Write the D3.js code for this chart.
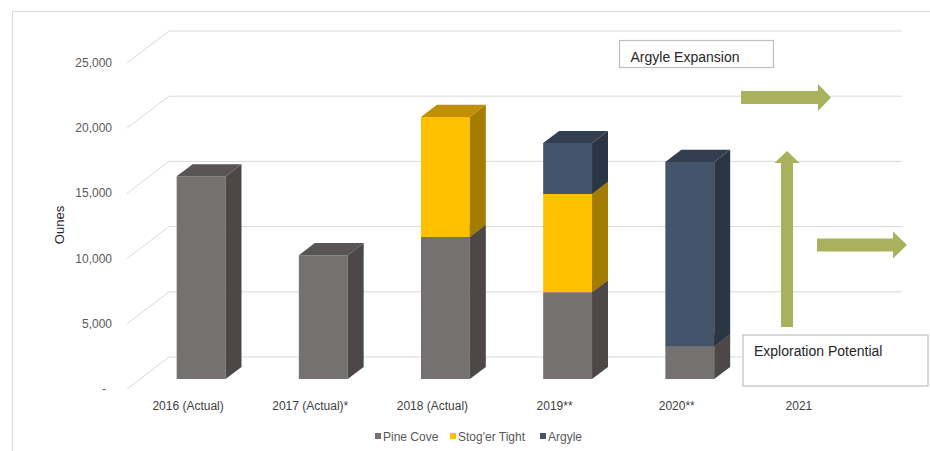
<!DOCTYPE html>
<html>
<head>
<meta charset="utf-8">
<script src="https://cdnjs.cloudflare.com/ajax/libs/d3/7.8.5/d3.min.js"></script>
<style>
  body { margin: 0; background: #fff; }
  text { font-family: "Liberation Sans", Arial, sans-serif; }
</style>
</head>
<body>
<svg width="930" height="451"></svg>
<script>
var categories = ["2016 (Actual)", "2017 (Actual)*", "2018 (Actual)", "2019**", "2020**", "2021"];
var pineCove = [15550, 9500, 10900, 6650, 2500, 0];
var stogerTight = [0, 0, 9200, 7550, 0, 0];
var argyle = [0, 0, 0, 3900, 14150, 0];
var yTicks = [0, 5000, 10000, 15000, 20000, 25000];

var seriesNames = ["Pine Cove", "Stog'er Tight", "Argyle"];
var seriesColors = [
  {front: "#767171", side: "#4d4847", top: "#5a5555"},
  {front: "#ffc000", side: "#a47c00", top: "#c09000"},
  {front: "#44546a", side: "#2b3645", top: "#333f50"}
];

var svg = d3.select("svg");

// chart area border
svg.append("rect")
  .attr("x", 12.5).attr("y", 11.5)
  .attr("width", 940).attr("height", 460)
  .attr("fill", "none").attr("stroke", "#d9d9d9");

// front plane scales, depth vector goes back to the wall
var depth = {dx: 42, dy: -32};
var x = d3.scaleBand()
  .domain(categories)
  .range([127, 860])
  .paddingInner(0.6)
  .paddingOuter(0.3);
var y = d3.scaleLinear()
  .domain([0, 25000])
  .range([389, 63]);

// bar sits between 31% and 69% of the depth
var zFront = 0.31, zBack = 0.69;

var grid = svg.append("g");
yTicks.forEach(function(v) {
  grid.append("line")
    .attr("x1", x.range()[0]).attr("y1", y(v))
    .attr("x2", x.range()[0] + depth.dx).attr("y2", y(v) + depth.dy)
    .attr("stroke", "#d9d9d9");
  grid.append("line")
    .attr("x1", x.range()[0] + depth.dx).attr("y1", y(v) + depth.dy)
    .attr("x2", x.range()[1] + depth.dx).attr("y2", y(v) + depth.dy)
    .attr("stroke", "#d9d9d9");
});

svg.append("g").selectAll("text")
  .data(yTicks)
  .enter().append("text")
  .attr("x", function(d) { return d === 0 ? 106 : 112; })
  .attr("y", function(d) { return y(d) + 4; })
  .attr("text-anchor", "end")
  .attr("fill", "#595959")
  .style("font-size", "12px")
  .text(function(d) { return d === 0 ? "-" : d3.format(",")(d); });

svg.append("text")
  .attr("transform", "translate(64," + 225 + ") rotate(-90)")
  .attr("text-anchor", "middle")
  .attr("fill", "#262626")
  .style("font-size", "13px")
  .text("Ounes");

// stacked segments
var stackData = categories.map(function(c, i) {
  return {cat: c, pine: pineCove[i], stog: stogerTight[i], argyle: argyle[i]};
});
var stacked = d3.stack().keys(["pine", "stog", "argyle"])(stackData);

var segs = [];
categories.forEach(function(c, i) {
  stacked.forEach(function(layer, k) {
    var d = layer[i];
    if (d[1] - d[0] > 0) segs.push({cat: c, k: k, y0: d[0], y1: d[1]});
  });
});

function pt(px, py, z) {
  return [px + depth.dx * z, py + depth.dy * z];
}

var bars = svg.append("g");
segs.forEach(function(s) {
  var x0 = x(s.cat), x1 = x(s.cat) + x.bandwidth();
  var yb = y(s.y0), yt = y(s.y1);
  var col = seriesColors[s.k];
  var front = [pt(x0, yb, zFront), pt(x1, yb, zFront), pt(x1, yt, zFront), pt(x0, yt, zFront)];
  var side = [pt(x1, yb, zFront), pt(x1, yb, zBack), pt(x1, yt, zBack), pt(x1, yt, zFront)];
  var top = [pt(x0, yt, zFront), pt(x1, yt, zFront), pt(x1, yt, zBack), pt(x0, yt, zBack)];
  bars.append("polygon").attr("points", front.join(" ")).attr("fill", col.front);
  bars.append("polygon").attr("points", side.join(" ")).attr("fill", col.side);
  bars.append("polygon").attr("points", top.join(" ")).attr("fill", col.top);
});

svg.append("g").selectAll("text")
  .data(categories)
  .enter().append("text")
  .attr("x", function(d) { return x(d) + x.bandwidth() / 2; })
  .attr("y", 410)
  .attr("text-anchor", "middle")
  .attr("fill", "#404040")
  .style("font-size", "12px")
  .text(function(d) { return d; });

// legend
var legendX = [375, 450, 540];
var legend = svg.append("g");
seriesNames.forEach(function(n, i) {
  legend.append("rect")
    .attr("x", legendX[i]).attr("y", 433)
    .attr("width", 6).attr("height", 6)
    .attr("fill", seriesColors[i].front);
  legend.append("text")
    .attr("x", legendX[i] + 8).attr("y", 441)
    .attr("fill", "#595959")
    .style("font-size", "12px")
    .text(n);
});

// annotations
var arrowColor = "#a9b15c";
function rightArrow(xs, xe, yc, shaft, head, headLen) {
  var p = [[xs, yc - shaft / 2], [xe - headLen, yc - shaft / 2], [xe - headLen, yc - head / 2],
           [xe, yc], [xe - headLen, yc + head / 2], [xe - headLen, yc + shaft / 2], [xs, yc + shaft / 2]];
  svg.append("polygon").attr("points", p.join(" ")).attr("fill", arrowColor);
}
function upArrow(xc, ys, ye, shaft, head, headLen) {
  var p = [[xc - shaft / 2, ys], [xc - shaft / 2, ye + headLen], [xc - head / 2, ye + headLen],
           [xc, ye], [xc + head / 2, ye + headLen], [xc + shaft / 2, ye + headLen], [xc + shaft / 2, ys]];
  svg.append("polygon").attr("points", p.join(" ")).attr("fill", arrowColor);
}
rightArrow(741, 831, 97.5, 13, 27, 13);
rightArrow(817, 907, 245, 13, 27, 14);
upArrow(787, 327, 151, 12, 25, 12);

function textBox(bx, by, bw, bh, label) {
  svg.append("rect")
    .attr("x", bx).attr("y", by).attr("width", bw).attr("height", bh)
    .attr("fill", "#fff").attr("stroke", "#bfbfbf").attr("stroke-width", 1.2);
  svg.append("text")
    .attr("x", bx + 11).attr("y", by + 21)
    .attr("fill", "#262626")
    .style("font-size", "14px")
    .text(label);
}
textBox(619.5, 40.5, 154, 27, "Argyle Expansion");
textBox(743, 335, 185, 51, "Exploration Potential");
</script>
</body>
</html>
